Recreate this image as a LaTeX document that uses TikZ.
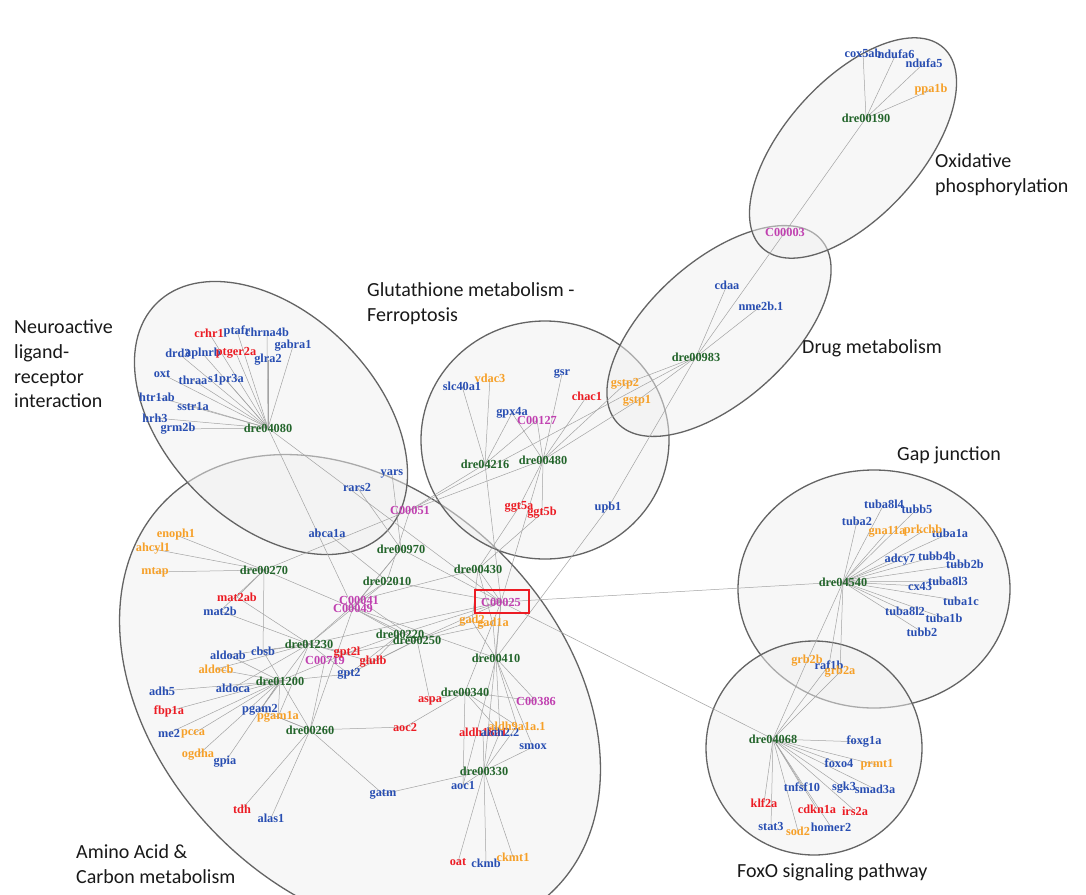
\documentclass[tikz,border=0pt]{standalone}
\usepackage{fontspec}
\setmainfont{Liberation Serif}
\newfontfamily\titlefont{Carlito}
\definecolor{pwgreen}{RGB}{34,100,42}
\definecolor{gnblue}{RGB}{40,78,178}
\definecolor{gnred}{RGB}{236,28,36}
\definecolor{gnorange}{RGB}{246,160,40}
\definecolor{cpdpink}{RGB}{192,64,176}
\definecolor{ringgray}{RGB}{100,100,100}
\pgfdeclarelayer{back}
\pgfdeclarelayer{wires}
\pgfsetlayers{back,wires,main}
\tikzset{
  lbl/.style={font=\bfseries\fontsize{12.3}{13}\selectfont, inner sep=0pt},
  pw/.style={lbl, text=pwgreen},
  gene/.style={lbl, text=gnblue},
  upreg/.style={lbl, text=gnred},
  orng/.style={lbl, text=gnorange},
  cpd/.style={lbl, text=cpdpink},
  link/.style={draw=black!36, line width=0.5pt},
  group/.style={draw=ringgray, line width=1.3pt, fill=black!6, fill opacity=0.5},
  title/.style={font=\titlefont\fontsize{20}{24.7}\selectfont, align=left, anchor=west, inner sep=0pt, text=black!90}
}
\begin{document}
\begin{tikzpicture}[x=1pt,y=-1pt]
    \useasboundingbox (0,0) rectangle (1086,894);
    \begin{pgfonlayer}{back}
        \fill[white] (0,0) rectangle (1086,894);
        \draw[group, rotate around={-45:(360,695)}] (360,695) ellipse (275 and 200);
        \draw[group, rotate around={-45:(271,418)}] (271,418) ellipse (162 and 105);
        \draw[group] (545,440) ellipse (124 and 119);
        \draw[group, rotate around={42:(719,331)}] (719,331) ellipse (137 and 70);
        \draw[group, rotate around={48:(853,148)}] (853,148) ellipse (135 and 68);
        \draw[group] (874,589) ellipse (136 and 119);
        \draw[group] (814,748) ellipse (108 and 107);
    \end{pgfonlayer}

    \node[title] (tox) at (935,175) {Oxidative\\phosphorylation};
    \node[title] (tdrug) at (802,348) {Drug metabolism};
    \node[title] (tglu) at (367,304) {Glutathione metabolism -\\Ferroptosis};
    \node[title] (tneuro) at (14,364) {Neuroactive\\ligand-\\receptor\\interaction};
    \node[title] (tgap) at (897,455) {Gap junction};
    \node[title] (tfoxo) at (737,872) {FoxO signaling pathway};
    \node[title] (tamino) at (76,864) {Amino Acid \&\\Carbon metabolism};

    \foreach \n/\x/\y in {dre00190/866/118, dre00983/696/357, dre04216/485/464, dre00480/543/460,
        dre04080/268/428, dre00970/401/549, dre02010/387/581, dre00270/264/570, dre00430/478/569,
        dre00220/400/634, dre00250/417/640, dre01230/309/644, dre01200/280/681, dre00260/310/730,
        dre00410/496/658, dre00340/465/692, dre00330/484/771, dre04540/843/582, dre04068/773/739}
        \node[pw] (\n) at (\x,\y) {\n};
    \foreach \n/\x/\y in {C00003/785/232, C00127/537/420, C00051/410/510, C00041/359/600,
        C00049/353/608, C00025/501/602, C00719/325/660, C00386/536/701}
        \node[cpd] (\n) at (\x,\y) {\n};
    \foreach \n/\x/\y in {cox5ab/863/53, ndufa6/896/54, ndufa5/924/63, cdaa/727/285, slc40a1/462/386,
        gsr/562/374, gpx4a/512/413, upb1/608/508, ptafr/237/331, chrna4b/267/332, drd3/178/353,
        aplnrb/203/354, glra2/268/360, gabra1/293/346, oxt/162/374, thraa/193/380, s1pr3a/226/380,
        htr1ab/157/397, sstr1a/193/406, hrh3/155/418, grm2b/178/429, yars/392/474, rars2/357/487,
        abca1a/327/533, mat2b/220/611, cbsb/263/651, aldoab/228/655, aldoca/233/688, adh5/162/691,
        pgam2/260/710, me2/169/733, gpia/225/762, gpt2/349/674, alas1/271/818, gatm/383/794,
        smox/533/747, aoc1/463/785, ckmb/486/863, tuba8l4/884/504, tubb5/917/509, tuba2/857/521,
        tuba1a/950/533, adcy7/900/560, tubb4b/937/556, tubb2b/965/564, cx43/920/586,
        tuba8l3/948/581, tuba1c/961/601, tuba8l2/905/611, tuba1b/944/618, tubb2/922/632,
        foxg1a/864/742, foxo4/839/763, tnfsf10/802/787, sgk3/844/788, smad3a/875/789,
        stat3/771/826, homer2/831/827}
        \node[gene] (\n) at (\x,\y) {\n};
    \node[gene] (nme2b1) at (761,306) {nme2b.1};
    \foreach \n/\x/\y in {crhr1/209/333, ptger2a/236/353, chac1/587/396, ggt5a/519/507,
        ggt5b/542/513, mat2ab/237/597, fbp1a/169/711, gpt2l/347/653, glulb/373/662, aspa/430/701,
        aoc2/405/727, tdh/242/809, aldh18a1/483/732, oat/458/862, klf2a/764/803, cdkn1a/817/809,
        irs2a/855/811}
        \node[upreg] (\n) at (\x,\y) {\n};
    \node[gene] (aldh22) at (500,732) {aldh2.2};
    \foreach \n/\x/\y in {ppa1b/931/90, gstp2/625/384, gstp1/637/401, vdac3/490/378,
        enoph1/176/535, ahcyl1/153/549, mtap/155/572, aldocb/216/669, pgam1a/278/717,
        pcca/193/734, ogdha/198/755, gad2/472/621, gad1a/493/624, ckmt1/513/857,
        gna11a/887/532, prkchb/923/531, grb2b/807/661, prmt1/877/765, sod2/798/831}
        \node[orng] (\n) at (\x,\y) {\n};
    \node[gene] (raf1b) at (829,665) {raf1b};
    \node[orng] (grb2a) at (840,672) {grb2a};
    \node[orng] (aldh9a1a1) at (517,726) {aldh9a1a.1};
    \draw[gnred, line width=2.2pt] (C00025.center) ++(-26,-12) rectangle ++(54,23);

    \begin{pgfonlayer}{wires}
        \foreach \g in {cox5ab,ndufa6,ndufa5,ppa1b,C00003}
            \draw[link] (dre00190.center) -- (\g.center);
        \foreach \g in {C00003,cdaa,nme2b1,gstp2,gstp1,upb1,C00051}
            \draw[link] (dre00983.center) -- (\g.center);
        \foreach \g in {gpx4a,C00127,gsr,chac1,gstp2,gstp1,ggt5a,ggt5b,C00051,C00025}
            \draw[link] (dre00480.center) -- (\g.center);
        \foreach \g in {slc40a1,vdac3,gpx4a,C00127,C00051,C00025}
            \draw[link] (dre04216.center) -- (\g.center);
        \foreach \g in {crhr1,ptafr,chrna4b,drd3,aplnrb,ptger2a,glra2,gabra1,oxt,thraa,s1pr3a,
            htr1ab,sstr1a,hrh3,grm2b,C00049,C00025}
            \draw[link] (dre04080.center) -- (\g.center);
        \foreach \g in {yars,rars2,C00041,C00049,C00025}
            \draw[link] (dre00970.center) -- (\g.center);
        \foreach \g in {abca1a,C00051,C00041,C00049,C00025}
            \draw[link] (dre02010.center) -- (\g.center);
        \foreach \g in {enoph1,ahcyl1,mtap,mat2ab,mat2b,cbsb,C00051,C00049}
            \draw[link] (dre00270.center) -- (\g.center);
        \foreach \g in {mat2ab,mat2b,cbsb,aldoab,aldocb,aldoca,pgam2,pgam1a,gpt2l,gpt2,glulb,
            C00041,C00049,C00025}
            \draw[link] (dre01230.center) -- (\g.center);
        \foreach \g in {aldoab,aldocb,aldoca,adh5,fbp1a,pgam2,pgam1a,me2,pcca,ogdha,gpia,gpt2,gpt2l}
            \draw[link] (dre01200.center) -- (\g.center);
        \foreach \g in {gpt2l,gpt2,glulb,C00049,C00025}
            \draw[link] (dre00220.center) -- (\g.center);
        \foreach \g in {gpt2l,gpt2,glulb,aspa,gad2,gad1a,C00041,C00049,C00025}
            \draw[link] (dre00250.center) -- (\g.center);
        \foreach \g in {cbsb,pgam2,pgam1a,aoc2,tdh,alas1,gatm,C00719,C00049}
            \draw[link] (dre00260.center) -- (\g.center);
        \foreach \g in {ggt5a,ggt5b,gad2,gad1a,C00025,C00041}
            \draw[link] (dre00430.center) -- (\g.center);
        \foreach \g in {gad2,gad1a,aldh9a1a1,aldh22,smox,aoc1,upb1,C00386,C00049,C00025}
            \draw[link] (dre00410.center) -- (\g.center);
        \foreach \g in {aspa,aoc2,aldh9a1a1,aldh22,aoc1,C00386,C00025}
            \draw[link] (dre00340.center) -- (\g.center);
        \foreach \g in {aldh18a1,aldh9a1a1,aldh22,aoc1,smox,gatm,oat,ckmb,ckmt1,C00025}
            \draw[link] (dre00330.center) -- (\g.center);
        \foreach \g in {tuba8l4,tubb5,tuba2,gna11a,prkchb,tuba1a,adcy7,tubb4b,tubb2b,cx43,
            tuba8l3,tuba1c,tuba8l2,tuba1b,tubb2,grb2b,raf1b,grb2a,C00025}
            \draw[link] (dre04540.center) -- (\g.center);
        \foreach \g in {foxg1a,foxo4,prmt1,tnfsf10,sgk3,smad3a,klf2a,cdkn1a,irs2a,stat3,sod2,
            homer2,grb2b,raf1b,grb2a,C00025}
            \draw[link] (dre04068.center) -- (\g.center);
    \end{pgfonlayer}
\end{tikzpicture}
\end{document}
